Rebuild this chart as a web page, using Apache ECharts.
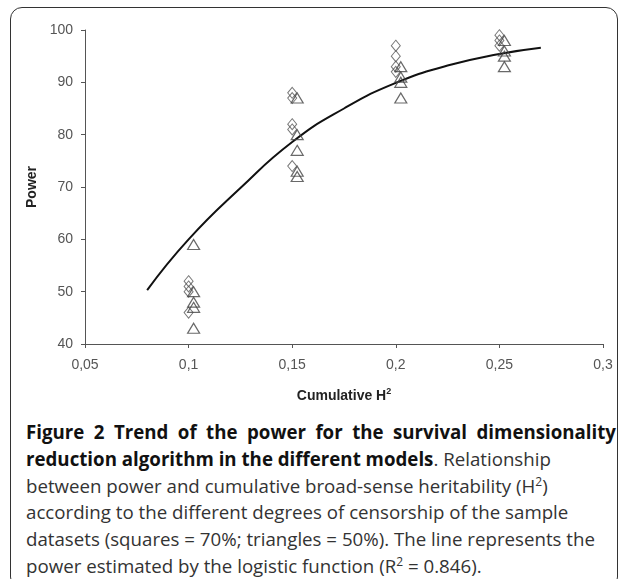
<!DOCTYPE html>
<html>
<head>
<meta charset="utf-8">
<script src="https://cdn.jsdelivr.net/npm/echarts@6/dist/echarts.min.js"></script>
<style>
  html, body { margin: 0; padding: 0; background: #fff; overflow: hidden; }
  #frame {
    position: absolute; left: 10px; top: 7px; width: 606px; height: 580px;
    border: 1.6px solid #333; border-radius: 12px;
  }
  #main { position: absolute; left: 0; top: 0; width: 625px; height: 410px; }
  #caption {
    position: absolute; left: 26px; top: 419px;
    font-family: "Open Sans", sans-serif; font-size: 18.7px; line-height: 26.8px;
    color: #333; white-space: nowrap;
  }
  #caption b { color: #111; }
  #line1 { display: block; width: 590px; text-align: justify; text-align-last: justify; white-space: normal; }
  sup { font-size: 12px; line-height: 0; }
</style>
</head>
<body>
<div id="frame"></div>
<div id="main"></div>
<div id="caption">
  <b id="line1">Figure 2 Trend of the power for the survival dimensionality</b><b>reduction algorithm in the different models</b>. Relationship<br>
  between power and cumulative broad-sense heritability (H<sup>2</sup>)<br>
  according to the different degrees of censorship of the sample<br>
  datasets (squares = 70%; triangles = 50%). The line represents the<br>
  power estimated by the logistic function (R<sup>2</sup> = 0.846).
</div>
<script>
// 70% censorship (diamonds)
const squaresX = [0.1, 0.1, 0.1, 0.1, 0.15, 0.15, 0.15, 0.15, 0.15, 0.2, 0.2, 0.2, 0.2, 0.25, 0.25, 0.25]
const squaresY = [52, 51, 50, 46, 88, 87, 82, 81, 74, 97, 95, 93, 92, 99, 98, 97]
// 50% censorship (triangles)
const trianglesX = [0.1, 0.1, 0.1, 0.1, 0.1, 0.15, 0.15, 0.15, 0.15, 0.15, 0.2, 0.2, 0.2, 0.2, 0.25, 0.25, 0.25, 0.25]
const trianglesY = [59, 50, 48, 47, 43, 87, 80, 77, 73, 72, 93, 91, 90, 87, 98, 96, 95, 93]
// logistic fit line
const fitX = [0.08, 0.1, 0.125, 0.15, 0.175, 0.2, 0.225, 0.25, 0.27]
const fitY = [50.3, 60, 69.8, 78.6, 85, 89.9, 93.2, 95.4, 96.6]
const xTicks = [0.05, 0.1, 0.15, 0.2, 0.25, 0.3]

const zip = (xs, ys) => xs.map((x, i) => [x, ys[i]])

const chart = echarts.init(document.getElementById('main'))

const axisFont = { fontFamily: 'Liberation Sans, Arial, sans-serif', fontSize: 14, color: '#555' }
const nameFont = { fontFamily: 'Liberation Sans, Arial, sans-serif', fontSize: 14, fontWeight: 'bold', color: '#222' }

chart.setOption({
  animation: false,
  grid: { left: 85, right: 22, top: 30, bottom: 66 },
  xAxis: {
    type: 'value',
    min: xTicks[0], max: xTicks[xTicks.length - 1], interval: 0.05,
    axisLine: { lineStyle: { color: '#555', width: 1 } },
    axisTick: { show: true, length: 4, lineStyle: { color: '#555' } },
    splitLine: { show: false },
    axisLabel: Object.assign({ margin: 14, formatter: v => String(+v.toFixed(2)).replace('.', ',') }, axisFont),
    name: 'Cumulative H{sup|2}',
    nameLocation: 'middle', nameGap: 43,
    nameTextStyle: Object.assign({
      rich: { sup: { fontSize: 9, fontWeight: 'bold', verticalAlign: 'top', padding: [0, 0, 9, 0], color: '#222' } }
    }, nameFont)
  },
  yAxis: {
    type: 'value',
    min: 40, max: 100, interval: 10,
    axisLine: { show: true, lineStyle: { color: '#555', width: 1 } },
    axisTick: { show: true, length: 4, lineStyle: { color: '#555' } },
    splitLine: { show: false },
    axisLabel: Object.assign({ margin: 12 }, axisFont),
    name: 'Power',
    nameLocation: 'middle', nameGap: 44,
    nameTextStyle: nameFont
  },
  series: [
    {
      name: 'fit',
      type: 'line',
      data: zip(fitX, fitY),
      smooth: true,
      showSymbol: false,
      lineStyle: { color: '#111', width: 2 },
      z: 1
    },
    {
      name: 'squares',
      type: 'scatter',
      data: zip(squaresX, squaresY),
      symbol: 'diamond',
      symbolSize: [9, 11],
      itemStyle: { color: 'rgba(255,255,255,0)', borderColor: '#555', borderWidth: 1 },
      z: 2
    },
    {
      name: 'triangles',
      type: 'scatter',
      data: zip(trianglesX, trianglesY),
      symbol: 'triangle',
      symbolSize: [12, 10],
      symbolOffset: [5, 0],
      itemStyle: { color: 'rgba(255,255,255,0)', borderColor: '#444', borderWidth: 1.2 },
      z: 3
    }
  ]
})
</script>
</body>
</html>
